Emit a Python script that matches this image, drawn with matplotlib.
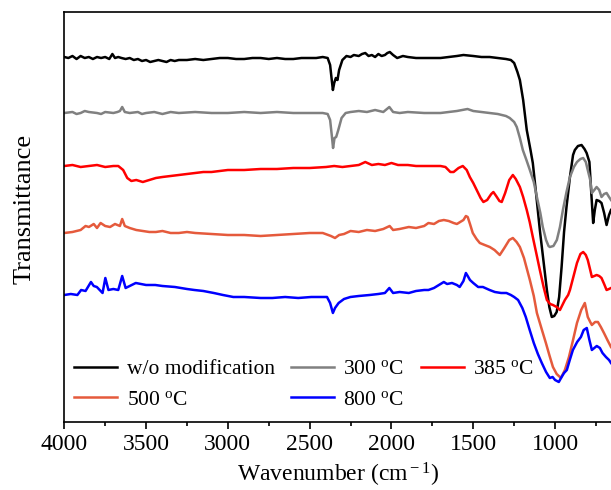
import matplotlib
matplotlib.use("Agg")
import matplotlib.pyplot as plt
from matplotlib.ticker import MultipleLocator

plt.rcParams['font.family'] = ['Liberation Serif', 'DejaVu Serif']
plt.rcParams['mathtext.fontset'] = 'custom'
plt.rcParams['mathtext.rm'] = 'Liberation Serif'
plt.rcParams['mathtext.it'] = 'Liberation Serif:italic'

# ---- data (wavenumber cm-1, transmittance a.u.) ----
wn_black = [4000, 3975, 3950, 3925, 3900, 3875, 3850, 3825, 3800, 3775, 3750, 3725, 3706, 3690, 3670, 3650,
            3625, 3600, 3575, 3550, 3525, 3500, 3475, 3450, 3425, 3400, 3375, 3350, 3325, 3300,
            3250, 3200, 3150, 3100, 3050, 3000, 2950, 2900, 2850, 2800, 2750, 2700, 2650, 2600, 2550, 2500,
            2460, 2420, 2390, 2375, 2365, 2358, 2350, 2340,
            2330, 2320, 2300, 2275, 2250, 2230, 2200, 2180, 2160, 2140, 2120, 2100, 2080, 2060, 2040, 2025,
            2010, 1990, 1965, 1930, 1900, 1850, 1800,
            1750, 1700, 1650, 1600, 1560, 1500, 1450, 1400, 1350, 1300, 1270, 1250, 1230, 1215, 1195, 1173,
            1150, 1136, 1115, 1093, 1070, 1050, 1035, 1020, 1005, 990, 975, 960, 945, 930, 909, 890, 879,
            860, 838, 820, 807, 790, 777, 767, 757, 746, 730, 716, 700, 685, 670, 658]
t_black = [365, 364, 366, 363, 366, 364, 365, 363, 365, 364, 365, 363, 368, 364, 365, 364,
           363, 364, 362, 363, 361, 362, 360, 361, 362, 361, 360, 362, 361, 362,
           362, 363, 362, 363, 364, 364, 363, 363, 364, 364, 363, 364, 363, 363, 364, 364,
           364, 365, 364, 357, 342, 332, 339, 344,
           342, 352, 362, 366, 365, 367, 366, 368, 369, 366, 367, 365, 368, 366, 367, 369,
           370, 367, 364, 366, 365, 364, 364,
           364, 364, 365, 366, 367, 366, 365, 365, 364, 363, 362, 359, 350, 342, 322, 292,
           272, 259, 227, 192, 160, 132, 115, 105, 106, 110, 125, 155, 190, 215, 245, 267, 272,
           276, 277, 273, 269, 260, 225, 199, 212, 222, 221, 219, 209, 197, 207, 212]

wn_300 = [4000, 3950, 3925, 3900, 3875, 3850, 3800, 3775, 3750, 3700, 3675, 3660, 3646, 3630, 3600, 3550,
          3525, 3500, 3450, 3400, 3350,
          3300, 3200, 3100, 3000, 2900, 2800, 2700, 2600, 2500, 2420, 2390, 2375, 2365, 2357, 2348, 2338,
          2325, 2305, 2280, 2250, 2200, 2150, 2100, 2050, 2013, 1990, 1950, 1900, 1800, 1700, 1600, 1535,
          1500, 1450, 1400, 1350, 1300, 1277, 1250, 1234, 1215, 1197, 1175, 1154, 1130, 1111, 1090, 1075,
          1055, 1040, 1032, 1010, 989, 970, 952, 930, 909, 885, 866, 845, 828, 812, 800, 785, 775, 760,
          746, 730, 716, 700, 685, 670, 658]
t_300 = [309, 310, 308, 309, 311, 310, 309, 308, 310, 309, 310, 311, 315, 310, 309, 310,
         308, 309, 310, 308, 310,
         309, 310, 309, 309, 310, 309, 310, 309, 309, 309, 308, 302, 287, 274, 284, 285,
         292, 304, 309, 310, 311, 310, 312, 310, 315, 310, 309, 310, 309, 309, 311, 313,
         311, 310, 309, 308, 306, 304, 300, 295, 284, 272, 262, 252, 240, 225, 209, 195,
         182, 176, 175, 176, 182, 195, 212, 230, 245, 255, 260, 263, 264, 260, 252, 242, 229, 232,
         235, 232, 225, 228, 229, 225, 222]

wn_385 = [4000, 3950, 3900, 3850, 3800, 3750, 3700, 3670, 3640, 3615, 3590, 3560, 3520, 3480, 3440, 3400,
          3350, 3300, 3250, 3200, 3150, 3100, 3050, 3000, 2900, 2800, 2700, 2600, 2500, 2400, 2350, 2300,
          2250, 2200, 2160, 2120, 2080, 2040, 2000, 1960, 1900, 1850, 1800, 1750, 1700, 1670, 1640, 1620,
          1590, 1564, 1540, 1521, 1500, 1479, 1455, 1438, 1415, 1390, 1377, 1360, 1340, 1326, 1305, 1280,
          1258, 1240, 1215, 1195, 1173, 1155, 1136, 1115, 1093, 1070, 1050, 1030, 1013, 990, 970, 955,
          940, 920, 909, 885, 866, 845, 828, 812, 800, 785, 775, 760, 746, 730, 716, 700, 685, 670, 658]
t_385 = [256, 257, 255, 256, 257, 255, 256, 256, 252, 244, 241, 242, 240, 242, 244, 245,
         246, 247, 248, 249, 250, 250, 251, 252, 252, 253, 253, 254, 254, 255, 256, 255,
         256, 257, 260, 257, 258, 257, 259, 257, 257, 256, 256, 256, 256, 255, 250, 250,
         254, 256, 252, 245, 239, 232, 224, 220, 222, 228, 230, 226, 221, 220, 229, 242,
         247, 243, 235, 225, 212, 200, 185, 169, 152, 135, 122, 118, 117, 115, 112, 117,
         122, 127, 132, 147, 159, 168, 170, 167, 162, 152, 145, 146, 147, 146, 144, 138, 132, 133, 134]

wn_500 = [4000, 3950, 3900, 3870, 3849, 3820, 3800, 3778, 3750, 3720, 3690, 3660, 3646, 3630, 3600, 3560,
          3520, 3480, 3440, 3400, 3350, 3300, 3250, 3200, 3100, 3000, 2900, 2800, 2700, 2600, 2500, 2420,
          2370, 2345, 2320, 2290, 2250, 2200, 2150, 2100, 2050, 2011, 1990, 1950, 1894, 1850, 1800, 1774,
          1740, 1710, 1680, 1650, 1620, 1600, 1580, 1560, 1545, 1534, 1520, 1503, 1480, 1460, 1430, 1399,
          1370, 1338, 1310, 1280, 1258, 1235, 1215, 1190, 1154, 1130, 1111, 1080, 1056, 1035, 1013, 990,
          964, 940, 915, 890, 866, 840, 818, 800, 785, 775, 755, 738, 720, 701, 680, 658]
t_500 = [189, 190, 192, 196, 195, 198, 194, 199, 196, 195, 198, 196, 203, 196, 194, 192,
         191, 190, 190, 191, 189, 189, 190, 189, 188, 187, 187, 186, 187, 188, 189, 189,
         186, 184, 187, 188, 191, 190, 192, 191, 193, 196, 192, 193, 195, 194, 196, 199,
         198, 201, 202, 201, 199, 198, 200, 202, 206, 205, 198, 189, 183, 179, 177, 175,
         172, 167, 174, 182, 184, 180, 175, 164, 142, 126, 109, 92, 79, 67, 55, 48,
         44, 52, 65, 82, 99, 112, 119, 105, 100, 97, 100, 100, 95, 89, 82, 75]

wn_800 = [4000, 3960, 3920, 3897, 3870, 3837, 3820, 3801, 3766, 3749, 3730, 3700, 3670, 3646, 3625, 3600,
          3563, 3500, 3444, 3400, 3324, 3250, 3205, 3150, 3086, 3030, 2967, 2900, 2800, 2728, 2650, 2570,
          2490, 2420, 2394, 2375, 2358, 2345, 2323, 2290, 2251, 2200, 2133, 2080, 2040, 2013, 1990, 1950,
          1894, 1850, 1800, 1774, 1740, 1700, 1680, 1660, 1630, 1600, 1583, 1560, 1545, 1534, 1520, 1500,
          1470, 1441, 1400, 1368, 1330, 1297, 1270, 1250, 1226, 1200, 1179, 1155, 1130, 1105, 1081, 1055,
          1032, 1015, 1000, 977, 960, 945, 928, 910, 891, 865, 842, 825, 806, 790, 775, 760, 745, 726,
          710, 689, 670, 658]
t_800 = [127, 128, 127, 132, 131, 140, 136, 135, 129, 144, 132, 133, 132, 146, 134, 136,
         139, 137, 137, 136, 135, 133, 132, 131, 129, 127, 125, 125, 124, 124, 125, 124,
         125, 125, 125, 119, 109, 114, 119, 123, 125, 126, 127, 128, 129, 134, 129, 130,
         129, 131, 132, 132, 134, 138, 140, 138, 139, 137, 135, 141, 149, 146, 142, 139,
         135, 135, 132, 130, 129, 129, 127, 125, 122, 114, 105, 92, 79, 68, 59, 50,
         44, 45, 42, 40, 45, 49, 52, 62, 72, 80, 85, 92, 94, 82, 72, 74, 76, 74,
         69, 65, 62, 59]

series = [
    (wn_black, t_black, 'w/o modification', '#000000'),
    (wn_300, t_300, '300 $^{\\rm o}$C', '#808080'),
    (wn_385, t_385, '385 $^{\\rm o}$C', '#FF0000'),
    (wn_500, t_500, '500 $^{\\rm o}$C', '#E55A3C'),
    (wn_800, t_800, '800 $^{\\rm o}$C', '#0000FF'),
]

fig = plt.figure(figsize=(6.11, 4.90), dpi=100)
ax = fig.add_axes([0.1052, 0.1388, 0.8948, 0.8367])

lines = []
for wn, t, lab, col in series:
    ln, = ax.plot(wn, t, color=col, lw=1.8, label=lab)
    lines.append(ln)

ax.set_xlim(4000, 658)
ax.set_ylim(0, 410)
ax.set_yticks([])
ax.xaxis.set_major_locator(MultipleLocator(500))
ax.xaxis.set_minor_locator(MultipleLocator(250))
ax.tick_params(axis='x', which='major', direction='out', length=5, width=1.2, labelsize=17, pad=4)
ax.tick_params(axis='x', which='minor', direction='out', length=3, width=1.2)
for s in ['left', 'bottom', 'top']:
    ax.spines[s].set_linewidth(1.2)
ax.spines['right'].set_visible(False)

ax.set_xlabel('Wavenumber (cm$^{\\rm -1}$)', fontsize=17)
ax.set_ylabel('Transmittance', fontsize=19)
ax.yaxis.set_label_coords(-0.052, 0.52)

# row-major legend order: row1 = w/o, 300, 385 ; row2 = 500, 800
order = [0, 3, 1, 4, 2]
ax.legend([lines[i] for i in order], [lines[i].get_label() for i in order],
          loc='lower left', bbox_to_anchor=(-0.018, -0.018), ncol=3, frameon=False, fontsize=15.5,
          handlelength=2.0, handletextpad=0.45, columnspacing=0.75, labelspacing=0.5)

fig.savefig('out.png', dpi=100)
